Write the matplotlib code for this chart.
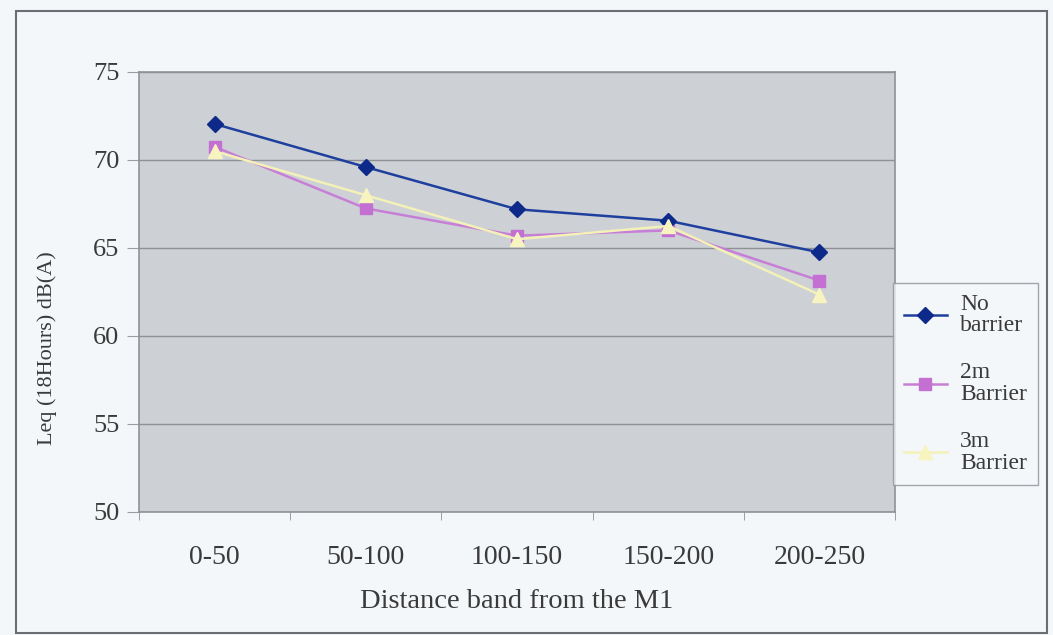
import matplotlib
matplotlib.use("Agg")
import matplotlib.pyplot as plt
from matplotlib.patches import Rectangle

categories = ["0-50", "50-100", "100-150", "150-200", "200-250"]
no_barrier = [72.05, 69.6, 67.2, 66.55, 64.75]
barrier_2m = [70.75, 67.25, 65.7, 66.0, 63.15]
barrier_3m = [70.5, 68.0, 65.5, 66.25, 62.35]
series_labels = ["No\nbarrier", "2m\nBarrier", "3m\nBarrier"]
y_ticks = [50, 55, 60, 65, 70, 75]

plt.rcParams['font.family'] = ['Liberation Serif', 'DejaVu Serif']

W, H = 1053, 635
fig = plt.figure(figsize=(W / 100, H / 100), dpi=100)
fig.patch.set_facecolor('#f4f7f9')

# outer chart frame
fig.patches.append(Rectangle((16 / W, 1 - 633 / H), (1047 - 16) / W, (633 - 11) / H,
                             transform=fig.transFigure, fill=False,
                             edgecolor='#6a6e72', linewidth=1.5))

ax = fig.add_axes([139 / W, 1 - 512 / H, (895 - 139) / W, (512 - 72) / H])
ax.set_facecolor('#cdd1d6')
x = list(range(len(categories)))

ax.plot(x, no_barrier, color='#1f3f9e', marker='D', markersize=8,
        linewidth=1.8, markerfacecolor='#0d2a8a', markeredgecolor='#0d2a8a',
        label=series_labels[0], zorder=5)
ax.plot(x, barrier_2m, color='#c77fd6', marker='s', markersize=9,
        linewidth=1.8, markerfacecolor='#c46fd2', markeredgecolor='#c46fd2',
        label=series_labels[1], zorder=4)
ax.plot(x, barrier_3m, color='#f3f0b8', marker='^', markersize=10,
        linewidth=1.8, markerfacecolor='#f7f4c0', markeredgecolor='#f7f4c0',
        label=series_labels[2], zorder=6)

ax.set_xlim(-0.5, len(categories) - 0.5)
ax.set_ylim(50, 75)
ax.set_yticks(y_ticks)
ax.set_yticklabels([str(v) for v in y_ticks], fontsize=19, color='#3a3a3a')
ax.yaxis.grid(True, color='#8e9296', linewidth=1.0)
ax.set_axisbelow(True)

ax.set_xticks(x)
ax.set_xticklabels(categories, fontsize=20, color='#3a3a3a')
ax.tick_params(axis='x', length=0, pad=24)
ax.set_xticks([i - 0.5 for i in range(len(categories) + 1)], minor=True)
ax.tick_params(axis='x', which='minor', length=6, color='#8e9296')
ax.tick_params(axis='y', length=9, color='#9a9ea2', pad=5)

for s in ax.spines.values():
    s.set_color('#8e9296')
    s.set_linewidth(1.2)

ax.set_xlabel("Distance band from the M1", fontsize=20.5, color='#3a3a3a')
ax.xaxis.set_label_coords(0.5, (512 - 602) / 440)
ax.xaxis.label.set_va('center')
ax.set_ylabel("Leq (18Hours) dB(A)", fontsize=16, color='#3a3a3a')
ax.yaxis.set_label_coords((47 - 139) / 756, (512 - 348) / 440)
ax.yaxis.label.set_va('center')

leg = fig.legend(loc='upper left', bbox_to_anchor=(893 / W, 1 - 283 / H),
                 fontsize=17, frameon=True, fancybox=False, handlelength=1.85,
                 labelspacing=1.1, borderpad=0.45, handletextpad=0.55,
                 borderaxespad=0)
leg.get_frame().set_edgecolor('#8e9296')
leg.get_frame().set_facecolor('#f4f7f9')
leg.get_frame().set_linewidth(1.0)
for t in leg.get_texts():
    t.set_color('#3a3a3a')
    t.set_linespacing(1.05)

fig.savefig("out.png", dpi=100, facecolor=fig.get_facecolor())
